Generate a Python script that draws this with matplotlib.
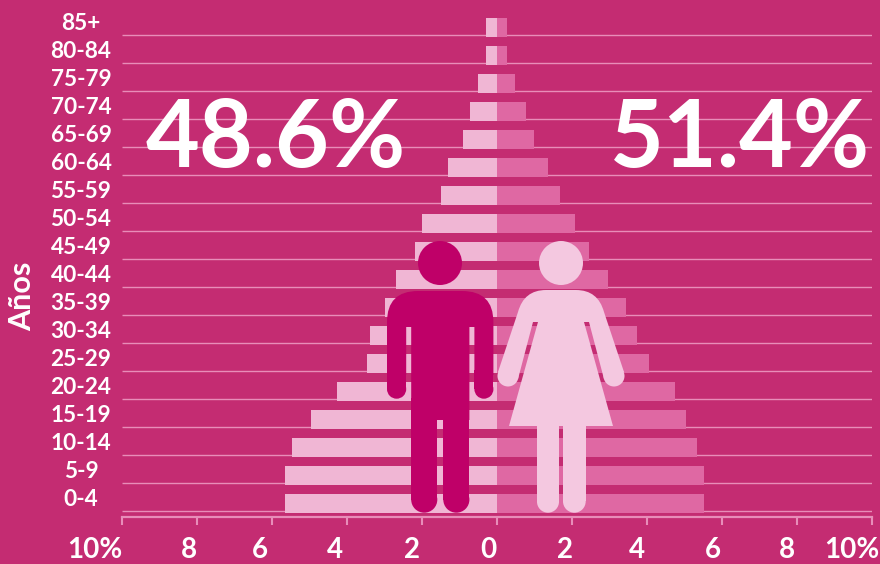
import matplotlib
matplotlib.use('Agg')
import matplotlib.pyplot as plt
from matplotlib.patches import Circle, PathPatch, Rectangle
from matplotlib.path import Path

plt.rcParams['font.family'] = ['Lato', 'DejaVu Sans']

# Data, youngest group first
ages = ['0-4', '5-9', '10-14', '15-19', '20-24', '25-29', '30-34', '35-39', '40-44',
        '45-49', '50-54', '55-59', '60-64', '65-69', '70-74', '75-79', '80-84', '85+']
men = [5.65, 5.65, 5.45, 4.96, 4.26, 3.46, 3.37, 2.97, 2.68,
       2.17, 1.99, 1.48, 1.29, 0.90, 0.70, 0.50, 0.28, 0.28]
women = [5.53, 5.53, 5.34, 5.05, 4.75, 4.06, 3.75, 3.45, 2.97,
         2.46, 2.09, 1.69, 1.37, 1.00, 0.78, 0.49, 0.28, 0.28]
tick_values = [-10, -8, -6, -4, -2, 0, 2, 4, 6, 8, 10]
tick_labels = ['10%', '8', '6', '4', '2', '0', '2', '4', '6', '8', '10%']
share_men = '48.6%'
share_women = '51.4%'

BG = '#C42C72'
MEN_BAR = '#F0B6D4'
WOMEN_BAR = '#DF68A3'
MAN = '#BF0068'
WOMAN = '#F4C8E0'
LINE = '#E88DB9'

W, H = 880, 564
fig = plt.figure(figsize=(W / 100, H / 100), dpi=100, facecolor=BG)

# Chart axes: 122..872 px wide, baseline at 517 px
ax = fig.add_axes([121.6 / W, 1 - 517 / H, 750 / W, 509 / H], facecolor='none')
ypos = list(range(len(ages)))
ax.hlines([y - 0.268 for y in ypos], -10, 10, color=LINE, lw=1.0, zorder=1)
ax.barh(ypos, [-v for v in men], height=0.68, color=MEN_BAR, zorder=2)
ax.barh(ypos, women, height=0.68, color=WOMEN_BAR, zorder=2)
ax.set_xlim(-10, 10)
ax.set_ylim(-0.482, 17.696)
ax.set_xticks(tick_values)
ax.set_xticklabels([])
ax.set_yticks([])
ax.tick_params(axis='x', direction='out', length=6, width=1.5, color=LINE)
for side in ['top', 'left', 'right']:
    ax.spines[side].set_visible(False)
ax.spines['bottom'].set_color(LINE)
ax.spines['bottom'].set_linewidth(1.6)

# Overlay in pixel coordinates for the text and the two figures
ov = fig.add_axes([0, 0, 1, 1], facecolor='none')
ov.set_xlim(0, W)
ov.set_ylim(H, 0)
ov.axis('off')


def limb(x0, x1, top, bottom, color):
    r = (x1 - x0) / 2
    ov.add_patch(Rectangle((x0, top), x1 - x0, bottom - top - r, color=color, lw=0))
    ov.add_patch(Circle((x0 + r, bottom - r), r, color=color, lw=0))


# Man
ov.add_patch(Circle((440, 263), 22, color=MAN, lw=0))
verts = [(387, 375), (387, 322), (387, 291), (418, 291), (462, 291), (493.4, 291), (493.4, 322),
         (493.4, 375), (474.4, 375), (474.4, 327), (469.4, 327), (469.4, 420), (411.2, 420),
         (411.2, 327), (406.2, 327), (406.2, 375), (387, 375)]
codes = [Path.MOVETO, Path.LINETO, Path.CURVE3, Path.CURVE3, Path.LINETO, Path.CURVE3, Path.CURVE3,
         Path.LINETO, Path.LINETO, Path.LINETO, Path.LINETO, Path.LINETO, Path.LINETO,
         Path.LINETO, Path.LINETO, Path.LINETO, Path.CLOSEPOLY]
ov.add_patch(PathPatch(Path(verts, codes), facecolor=MAN, lw=0))
limb(387, 406.2, 370, 398.7, MAN)
limb(474.4, 493.4, 370, 398.7, MAN)
limb(411.2, 437.3, 398, 512.7, MAN)
limb(443.3, 469.4, 398, 512.7, MAN)

# Woman
ov.add_patch(Circle((561, 263), 22, color=WOMAN, lw=0))
verts = [(538, 322), (509, 426), (613, 426), (584, 322), (589, 322), (604, 379), (624, 372),
         (604, 312), (598, 290), (576, 290), (546, 290), (524, 290), (518, 312), (498, 372),
         (518, 379), (533, 322), (538, 322)]
codes = [Path.MOVETO, Path.LINETO, Path.LINETO, Path.LINETO, Path.LINETO, Path.LINETO, Path.LINETO,
         Path.LINETO, Path.CURVE3, Path.CURVE3, Path.LINETO, Path.CURVE3, Path.CURVE3, Path.LINETO,
         Path.LINETO, Path.LINETO, Path.CLOSEPOLY]
ov.add_patch(PathPatch(Path(verts, codes), facecolor=WOMAN, lw=0))
ov.add_patch(Circle((508, 376), 10.5, color=WOMAN, lw=0))
ov.add_patch(Circle((614, 376), 10.5, color=WOMAN, lw=0))
limb(537, 559, 424, 512.7, WOMAN)
limb(563, 585.7, 424, 512.7, WOMAN)

# Text
for i, label in enumerate(ages):
    ov.text(81, 499 - 28 * i, label, color='white', fontsize=16.3, fontweight='bold',
            ha='center', va='center')
ov.text(22, 296, 'Años', color='white', fontsize=22, fontweight='bold', rotation=90,
        ha='center', va='center')
ov.text(146, 167, share_men, color='white', fontsize=67, fontweight='bold', ha='left', va='baseline')
ov.text(610, 167, share_women, color='white', fontsize=67, fontweight='bold', ha='left', va='baseline')
label_x = [95, 189, 260, 335, 412, 488, 565, 637, 713, 787, 852]
for x, label in zip(label_x, tick_labels):
    ov.text(x, 558, label, color='white', fontsize=20, fontweight='bold', ha='center', va='baseline')

fig.savefig('out.png', dpi=100, facecolor=BG)
